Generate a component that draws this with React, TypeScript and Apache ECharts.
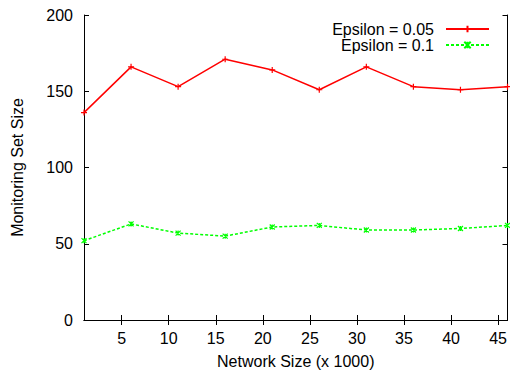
import React, { useEffect, useRef } from "react";
import * as echarts from "echarts";

const networkSize = [1, 6, 11, 16, 21, 26, 31, 36, 41, 46];
const eps005 = [136, 166, 153, 171, 164, 151, 166, 153, 151, 153];
const eps01 = [52, 63, 57, 55, 61, 62, 59, 59, 60, 62];
const xTicks = [5, 10, 15, 20, 25, 30, 35, 40, 45];
const yTicks = [0, 50, 100, 150, 200];

const FONT = "Liberation Sans, Arial, sans-serif";
const FS = 16;

export default function App() {
  const ref = useRef<HTMLDivElement>(null);
  useEffect(() => {
    const chart = echarts.init(ref.current!, null, { renderer: "svg" });
    const axisLine = { show: true, lineStyle: { color: "#000", width: 1 } };
    const tick = { show: true, inside: true, length: 5, lineStyle: { color: "#000" } };
    chart.setOption({
      animation: false,
      backgroundColor: "#fff",
      textStyle: { fontFamily: FONT },
      grid: { left: 84, right: 1, top: 15, bottom: 51, containLabel: false },
      legend: {
        orient: "vertical",
        right: 20,
        top: 21,
        padding: 0,
        align: "right",
        itemWidth: 43,
        itemHeight: 8,
        itemGap: 0,
        textStyle: { fontSize: FS, lineHeight: 15, color: "#000", fontFamily: FONT, padding: [0, 7, 0, 0] },
        data: ["Epsilon = 0.05", "Epsilon = 0.1"],
      },
      xAxis: [
        {
          type: "value",
          min: 1,
          max: 46,
          position: "bottom",
          name: "Network Size (x 1000)",
          nameLocation: "middle",
          nameGap: 33,
          nameTextStyle: { fontSize: FS, color: "#000", fontFamily: FONT },
          axisLine,
          axisTick: { ...tick, customValues: xTicks },
          axisLabel: { customValues: xTicks, fontSize: FS, color: "#000", margin: 10, fontFamily: FONT },
          splitLine: { show: false },
        },
        {
          type: "value",
          min: 1,
          max: 46,
          position: "top",
          axisLine,
          axisTick: { ...tick, customValues: xTicks },
          axisLabel: { show: false },
          splitLine: { show: false },
        },
      ],
      yAxis: [
        {
          type: "value",
          min: 0,
          max: 200,
          position: "left",
          name: "Monitoring Set Size",
          nameLocation: "middle",
          nameGap: 59,
          nameTextStyle: { fontSize: FS, color: "#000", fontFamily: FONT },
          axisLine,
          axisTick: { ...tick, customValues: yTicks },
          axisLabel: { customValues: yTicks, fontSize: FS, color: "#000", margin: 11, fontFamily: FONT },
          splitLine: { show: false },
        },
        {
          type: "value",
          min: 0,
          max: 200,
          position: "right",
          axisLine,
          axisTick: { ...tick, customValues: yTicks },
          axisLabel: { show: false },
          splitLine: { show: false },
        },
      ],
      series: [
        {
          name: "Epsilon = 0.05",
          type: "line",
          xAxisIndex: 0,
          yAxisIndex: 0,
          data: networkSize.map((x, i) => [x, eps005[i]]),
          symbol: "path://M0,-1L0,1M-1,0L1,0",
          symbolSize: 6,
          showAllSymbol: true,
          lineStyle: { color: "#ff0000", width: 1.5 },
          itemStyle: { color: "#ff0000", borderColor: "#ff0000", borderWidth: 1.2 },
        },
        {
          name: "Epsilon = 0.1",
          type: "line",
          xAxisIndex: 0,
          yAxisIndex: 0,
          data: networkSize.map((x, i) => [x, eps01[i]]),
          symbol: "path://M-1,-1L1,1M-1,1L1,-1M0,-1L0,1",
          symbolSize: 5,
          showAllSymbol: true,
          lineStyle: { color: "#00ff00", width: 1.5, type: [3, 2] },
          itemStyle: { color: "#00ff00", borderColor: "#00ff00", borderWidth: 1.2 },
        },
      ],
    });
    return () => chart.dispose();
  }, []);
  return <div ref={ref} style={{ position: "absolute", left: 0, top: 0, width: 510, height: 374 }} />;
}
